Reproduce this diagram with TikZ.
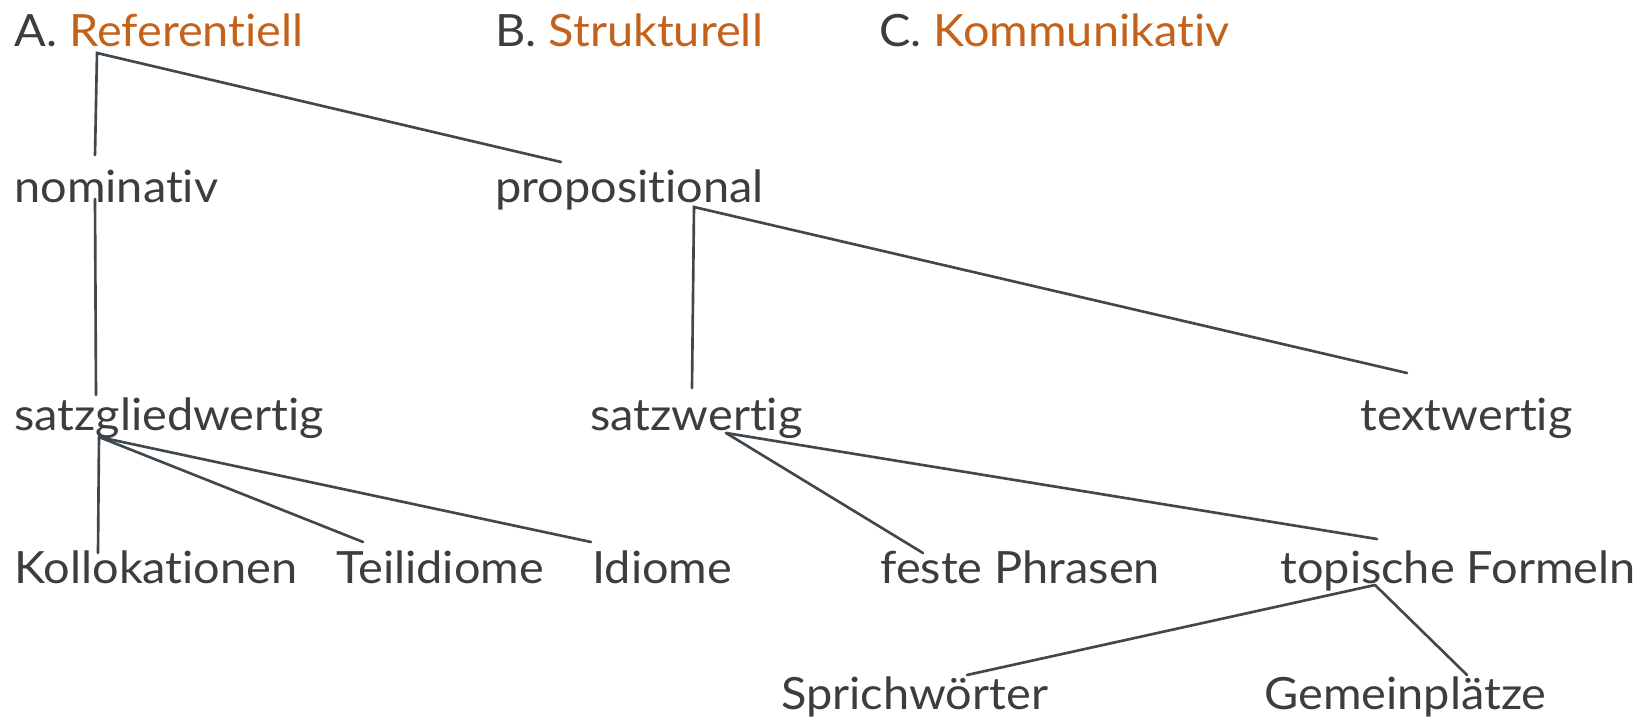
\documentclass[tikz,border=0pt]{standalone}
\usepackage{fontspec}
\setmainfont[Ligatures=NoCommon, FakeStretch=1.055]{Lato}
\usepackage{xcolor}
\definecolor{treeink}{HTML}{3D3D3D}
\definecolor{treeline}{HTML}{3E484E}
\definecolor{treeaccent}{HTML}{C4621C}

\begin{document}
\begin{tikzpicture}[x=0.02cm, y=-0.02cm,
                    every node/.style={treeink, inner sep=0pt, anchor=base west,
                                       font=\fontsize{25.3}{30}\selectfont},
                    branch/.style={treeline, line width=1.5pt, line cap=round}]

  \useasboundingbox (0,0) rectangle (1651,720);

  %% Kategorien
  \node (ref)    at (14,47)  {A. \textcolor{treeaccent}{Referentiell}};
  \node (struct) at (495,47) {B. \textcolor{treeaccent}{Strukturell}};
  \node (komm)   at (879,47) {C. \textcolor{treeaccent}{Kommunikativ}};

  %% Ebenen
  \node (nom)    at (14,202)   {nominativ};
  \node (prop)   at (495,202)  {propositional};
  \node (satzgl) at (14,430)   {satzgliedwertig};
  \node (satzw)  at (590,430)  {satzwertig};
  \node (textw)  at (1360,430) {textwertig};
  \node (koll)   at (14,583)   {Kollokationen};
  \node (teil)   at (336,583)  {Teilidiome};
  \node (idio)   at (592,583)  {Idiome};
  \node (feste)  at (880,583)  {feste Phrasen};
  \node (topi)   at (1280,583) {topische Formeln};
  \node (sprich) at (781,709)  {Sprichwörter};
  \node (gemein) at (1264,709) {Gemeinplätze};

  %% Verzweigungspunkte und Enden
  \coordinate (ref-fork)    at (97,53);
  \coordinate (nom-top)     at (95,155);
  \coordinate (prop-top)    at (561,162);
  \coordinate (nom-foot)    at (95,199);
  \coordinate (satzgl-top)  at (96,395);
  \coordinate (prop-fork)   at (694,207);
  \coordinate (satzw-top)   at (692,388);
  \coordinate (textw-top)   at (1407,373);
  \coordinate (satzgl-fork) at (99,437);
  \coordinate (koll-top)    at (98,553);
  \coordinate (teil-top)    at (363,542);
  \coordinate (idio-top)    at (591,542);
  \coordinate (satzw-fork)  at (726,433);
  \coordinate (feste-top)   at (923,553);
  \coordinate (topi-top)    at (1377,539);
  \coordinate (topi-fork)   at (1375,585);
  \coordinate (sprich-top)  at (967,675);
  \coordinate (gemein-top)  at (1467,675);

  %% Äste
  \draw[branch] (nom-top) -- (ref-fork) -- (prop-top);
  \draw[branch] (nom-foot) -- (satzgl-top);
  \draw[branch] (satzw-top) -- (prop-fork) -- (textw-top);
  \draw[branch] (satzgl-fork) -- (koll-top);
  \draw[branch] (satzgl-fork) -- (teil-top);
  \draw[branch] (satzgl-fork) -- (idio-top);
  \draw[branch] (satzw-fork) -- (feste-top);
  \draw[branch] (satzw-fork) -- (topi-top);
  \draw[branch] (topi-fork) -- (sprich-top);
  \draw[branch] (topi-fork) -- (gemein-top);

\end{tikzpicture}
\end{document}
